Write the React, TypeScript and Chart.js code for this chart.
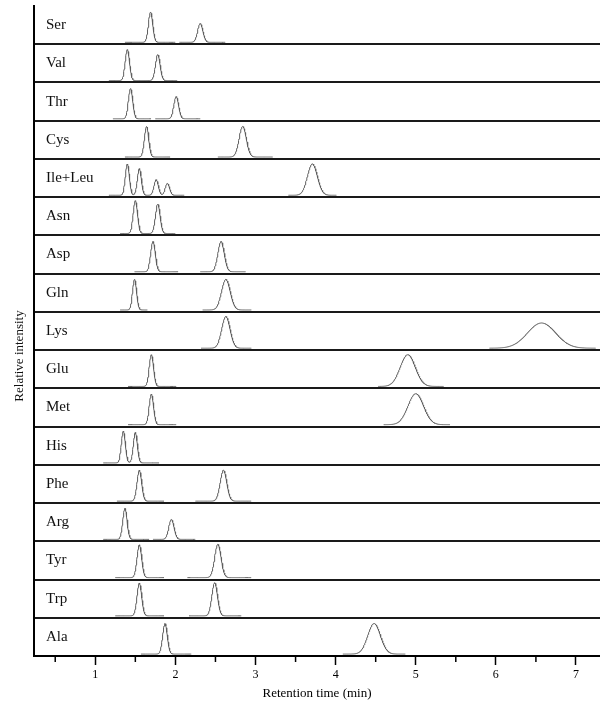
import React, { useEffect, useRef } from 'react';
import { Chart, registerables } from 'chart.js';
Chart.register(...registerables);

const aminoAcids = ['Ser', 'Val', 'Thr', 'Cys', 'Ile+Leu', 'Asn', 'Asp', 'Gln', 'Lys', 'Glu', 'Met', 'His', 'Phe', 'Arg', 'Tyr', 'Trp', 'Ala'];

// retention time of each peak (min)
const peakTimes = [
  [1.69, 2.31],
  [1.40, 1.78],
  [1.44, 2.01],
  [1.64, 2.84],
  [1.40, 1.55, 1.76, 1.90, 3.71],
  [1.50, 1.78],
  [1.72, 2.57],
  [1.49, 2.63],
  [2.63, 6.57],
  [1.70, 4.90],
  [1.70, 5.00],
  [1.35, 1.50],
  [1.55, 2.60],
  [1.37, 1.95],
  [1.55, 2.53],
  [1.55, 2.49],
  [1.87, 4.48],
];

// relative intensity of each peak (fraction of a panel)
const peakHeights = [
  [0.79, 0.49],
  [0.81, 0.68],
  [0.79, 0.58],
  [0.80, 0.80],
  [0.82, 0.70, 0.41, 0.31, 0.82],
  [0.86, 0.77],
  [0.79, 0.79],
  [0.80, 0.80],
  [0.83, 0.66],
  [0.83, 0.83],
  [0.80, 0.81],
  [0.83, 0.80],
  [0.81, 0.81],
  [0.81, 0.52],
  [0.86, 0.87],
  [0.86, 0.87],
  [0.80, 0.80],
];

// peak widths (sigma, min)
const peakWidths = [
  [0.027, 0.033],
  [0.027, 0.029],
  [0.027, 0.030],
  [0.027, 0.045],
  [0.025, 0.025, 0.027, 0.027, 0.062],
  [0.027, 0.029],
  [0.029, 0.040],
  [0.025, 0.054],
  [0.052, 0.175],
  [0.027, 0.094],
  [0.027, 0.097],
  [0.025, 0.025],
  [0.029, 0.041],
  [0.027, 0.033],
  [0.029, 0.040],
  [0.029, 0.035],
  [0.029, 0.079],
];

// recorded trace windows (min)
const traceRanges = [
  [[1.37, 2.00], [2.05, 2.63]],
  [[1.17, 2.03]],
  [[1.22, 1.70], [1.75, 2.31]],
  [[1.37, 1.94], [2.53, 3.22]],
  [[1.17, 2.11], [3.41, 4.01]],
  [[1.31, 2.00]],
  [[1.49, 2.04], [2.31, 2.88]],
  [[1.31, 1.65], [2.34, 2.95]],
  [[2.32, 2.95], [5.92, 7.25]],
  [[1.41, 2.01], [4.53, 5.35]],
  [[1.41, 2.01], [4.60, 5.43]],
  [[1.10, 1.80]],
  [[1.27, 1.86], [2.25, 2.95]],
  [[1.10, 1.68], [1.72, 2.25]],
  [[1.25, 1.86], [2.15, 2.95]],
  [[1.25, 1.86], [2.17, 2.83]],
  [[1.57, 2.20], [4.09, 4.87]],
];

const xTicks = [1, 2, 3, 4, 5, 6, 7];
const xMinorTicks = [0.5, 1.5, 2.5, 3.5, 4.5, 5.5, 6.5];

const FONT = '"Liberation Serif", "Times New Roman", serif';
const N = aminoAcids.length;
const BASE_OFFSET = 0.05;

function buildDatasets() {
  const sets: any[] = [];
  aminoAcids.forEach((name, i) => {
    const base = N - 1 - i + BASE_OFFSET;
    traceRanges[i].forEach(([a, b]) => {
      const pts: { x: number; y: number }[] = [];
      const step = 0.004;
      for (let t = a; t <= b + 1e-9; t += step) {
        let v = 0;
        peakTimes[i].forEach((c, k) => {
          const s = peakWidths[i][k];
          v += peakHeights[i][k] * Math.exp(-((t - c) * (t - c)) / (2 * s * s));
        });
        pts.push({ x: t, y: base + v });
      }
      sets.push({
        label: name,
        data: pts,
        borderColor: '#5e5e5e',
        borderWidth: 1,
        pointRadius: 0,
        fill: false,
        tension: 0,
      });
    });
  });
  return sets;
}

const overlay = {
  id: 'overlay',
  afterDraw(chart: any) {
    const { ctx, chartArea, scales } = chart;
    const x = scales.x;
    const y = scales.y;
    ctx.save();
    ctx.strokeStyle = '#000';
    ctx.lineWidth = 1.5;
    xMinorTicks.forEach((v) => {
      const px = x.getPixelForValue(v);
      ctx.beginPath();
      ctx.moveTo(px, chartArea.bottom);
      ctx.lineTo(px, chartArea.bottom + 6);
      ctx.stroke();
    });
    ctx.fillStyle = '#111';
    ctx.font = '15px ' + FONT;
    ctx.textBaseline = 'middle';
    ctx.textAlign = 'left';
    aminoAcids.forEach((n, i) => {
      ctx.fillText(n, chartArea.left + 12, y.getPixelForValue(N - 1 - i + 0.5));
    });
    ctx.translate(20, 356);
    ctx.rotate(-Math.PI / 2);
    ctx.textAlign = 'center';
    ctx.font = '13px ' + FONT;
    ctx.fillText('Relative intensity', 0, 0);
    ctx.restore();
  },
};

export default function App() {
  const ref = useRef<HTMLCanvasElement>(null);
  useEffect(() => {
    document.body.style.margin = '0';
    const chart = new Chart(ref.current as HTMLCanvasElement, {
      type: 'line',
      data: { datasets: buildDatasets() },
      options: {
        animation: false,
        responsive: true,
        maintainAspectRatio: false,
        layout: { padding: { top: 6, left: 0, right: 0, bottom: 0 } },
        plugins: { legend: { display: false }, tooltip: { enabled: false } },
        scales: {
          x: {
            type: 'linear',
            min: 0.235,
            max: 7.3,
            afterBuildTicks: (s: any) => {
              s.ticks = xTicks.map((v) => ({ value: v }));
            },
            afterFit: (s: any) => {
              s.height = 45;
            },
            ticks: {
              color: '#000',
              font: { family: FONT, size: 12 },
              padding: 3,
              maxRotation: 0,
            },
            grid: {
              drawOnChartArea: false,
              drawTicks: true,
              tickLength: 9,
              tickColor: '#000',
              tickWidth: 1.5,
            },
            border: { display: true, color: '#000', width: 2 },
            title: {
              display: true,
              text: 'Retention time (min)',
              color: '#000',
              font: { family: FONT, size: 13 },
              padding: { top: 0, bottom: 0 },
            },
          },
          y: {
            type: 'linear',
            min: 0,
            max: N,
            afterBuildTicks: (s: any) => {
              const t = [];
              for (let v = 0; v <= N; v++) t.push({ value: v });
              s.ticks = t;
            },
            afterFit: (s: any) => {
              s.width = 34;
            },
            ticks: { display: false },
            grid: {
              drawTicks: false,
              lineWidth: 2,
              color: (c: any) => (c.tick && c.tick.value > 0 && c.tick.value < N ? '#1a1a1a' : 'rgba(0,0,0,0)'),
            },
            border: { display: true, color: '#000', width: 2 },
          },
        },
      },
      plugins: [overlay],
    } as any);
    return () => chart.destroy();
  }, []);
  return (
    <div style={{ width: 600, height: 701, position: 'relative', background: '#fff' }}>
      <canvas ref={ref} />
    </div>
  );
}
